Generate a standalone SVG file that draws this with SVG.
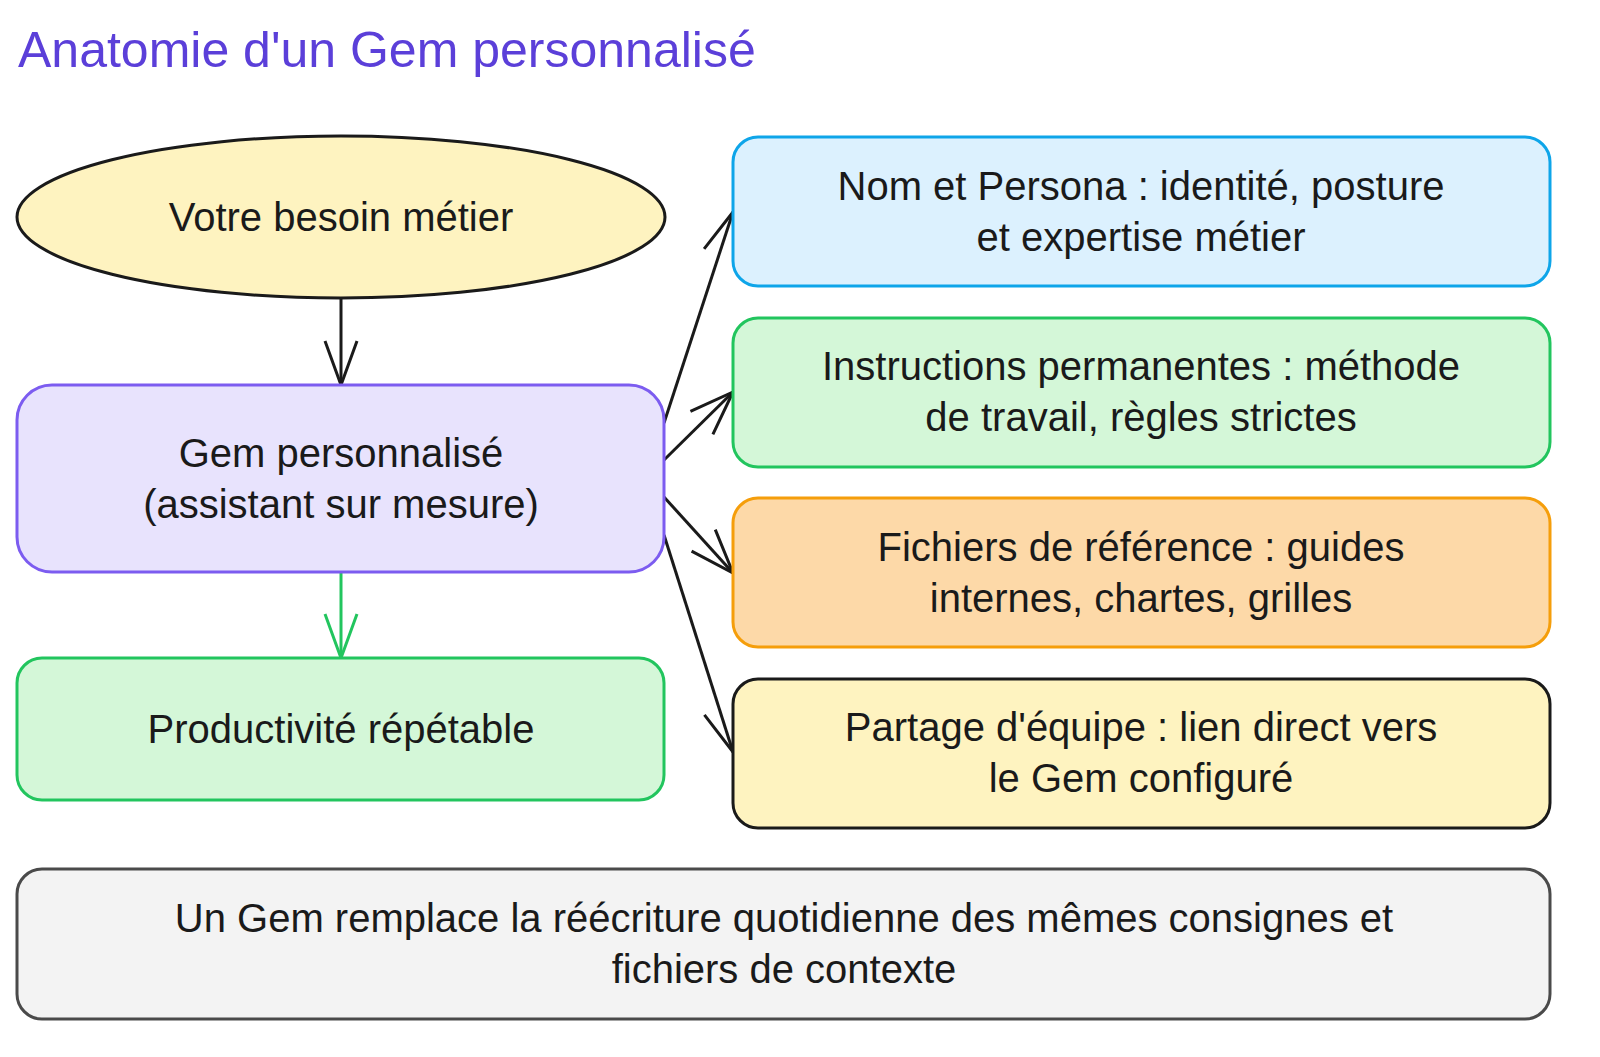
<svg xmlns="http://www.w3.org/2000/svg" width="1600" height="1057" viewBox="0 0 1600 1057">
<style>
text{font-family:"Liberation Sans",Arial,sans-serif;font-size:40px;fill:#1a1a1a;text-anchor:middle}
.title{font-size:50px;fill:#5b3fd9;text-anchor:start}
.n{stroke-width:3}
.c{fill:none;stroke:#1a1a1a;stroke-width:3}
</style>
<defs>
<marker id="a" markerUnits="userSpaceOnUse" markerWidth="50" markerHeight="40" viewBox="-2 -20 50 40" refX="44" refY="0" orient="auto"><path d="M0,-16 L44,0 L0,16" fill="none" stroke="#1a1a1a" stroke-width="3"/></marker>
<marker id="g" markerUnits="userSpaceOnUse" markerWidth="50" markerHeight="40" viewBox="-2 -20 50 40" refX="44" refY="0" orient="auto"><path d="M0,-16 L44,0 L0,16" fill="none" stroke="#22c55e" stroke-width="3"/></marker>
</defs>
<rect width="1600" height="1057" fill="#fff"/>
<text class="title" x="18" y="67">Anatomie d'un Gem personnalisé</text>
<g id="connectors">
<path class="c" d="M341,299 L341,385" marker-end="url(#a)"/>
<path class="c" d="M341,572 L341,658" style="stroke:#22c55e" marker-end="url(#g)"/>
<path class="c" d="M664,423 L733,212" marker-end="url(#a)"/>
<path class="c" d="M664,460 L733,392" marker-end="url(#a)"/>
<path class="c" d="M664,497 L733,573" marker-end="url(#a)"/>
<path class="c" d="M664,535 L733,752" marker-end="url(#a)"/>
</g>
<g id="besoin"><ellipse class="n" cx="341" cy="217" rx="324" ry="81" fill="#fef3c0" stroke="#1a1a1a"/><text x="341" y="231">Votre besoin métier</text></g>
<g id="gem"><rect class="n" x="17" y="385" width="647" height="187" rx="35" fill="#e8e3fd" stroke="#7c5cf0"/><text x="341" y="467">Gem personnalisé</text><text x="341" y="518">(assistant sur mesure)</text></g>
<g id="prod"><rect class="n" x="17" y="658" width="647" height="142" rx="25" fill="#d4f7d8" stroke="#22c55e"/><text x="341" y="743">Productivité répétable</text></g>
<g id="nom"><rect class="n" x="733" y="137" width="817" height="149" rx="25" fill="#dcf1fe" stroke="#0ea5e9"/><text x="1141" y="200">Nom et Persona : identité, posture</text><text x="1141" y="251">et expertise métier</text></g>
<g id="instr"><rect class="n" x="733" y="318" width="817" height="149" rx="25" fill="#d4f7d8" stroke="#22c55e"/><text x="1141" y="380">Instructions permanentes : méthode</text><text x="1141" y="431">de travail, règles strictes</text></g>
<g id="fich"><rect class="n" x="733" y="498" width="817" height="149" rx="25" fill="#fdd9a8" stroke="#f59e0b"/><text x="1141" y="561">Fichiers de référence : guides</text><text x="1141" y="612">internes, chartes, grilles</text></g>
<g id="partage"><rect class="n" x="733" y="679" width="817" height="149" rx="25" fill="#fef3c0" stroke="#1a1a1a"/><text x="1141" y="741">Partage d'équipe : lien direct vers</text><text x="1141" y="792">le Gem configuré</text></g>
<g id="note"><rect class="n" x="17" y="869" width="1533" height="150" rx="25" fill="#f3f3f3" stroke="#4a4a4a"/><text x="784" y="932">Un Gem remplace la réécriture quotidienne des mêmes consignes et</text><text x="784" y="983">fichiers de contexte</text></g>
</svg>
